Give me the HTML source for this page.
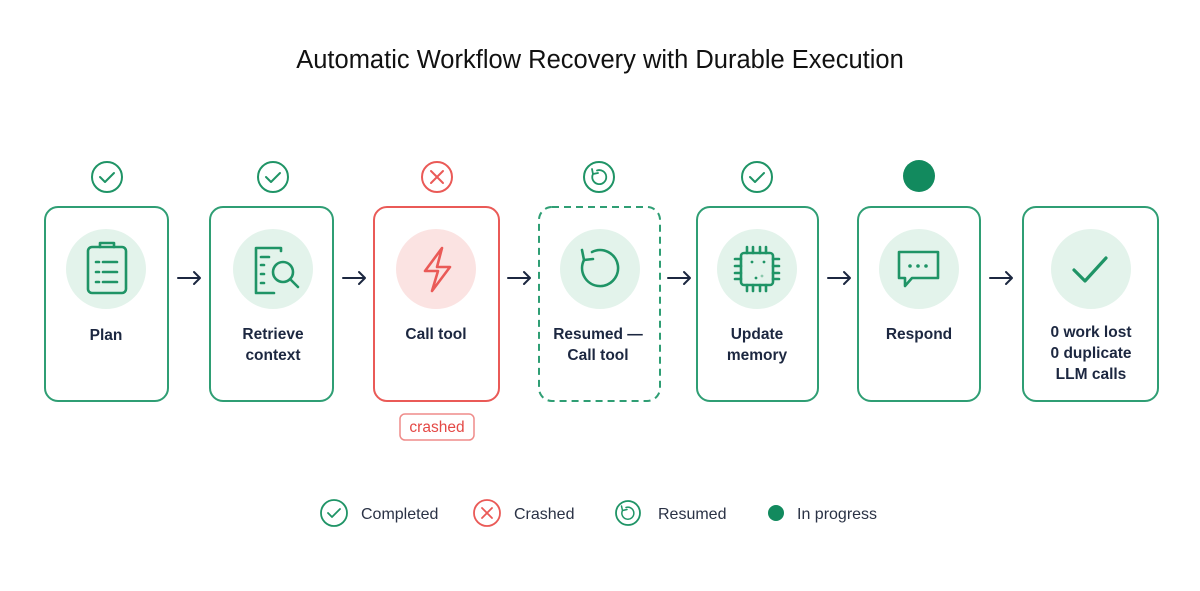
<!DOCTYPE html>
<html><head><meta charset="utf-8"><style>
html,body{margin:0;padding:0;background:#fff}
svg{display:block}
text{font-family:"Liberation Sans",sans-serif}
</style></head><body>
<svg width="1200" height="591" viewBox="0 0 1200 591" xmlns="http://www.w3.org/2000/svg">
<rect width="1200" height="591" fill="#fff"/>
<text x="600" y="68" text-anchor="middle" font-size="25.5" fill="#111">Automatic Workflow Recovery with Durable Execution</text>
<g fill="none" stroke-width="2">
<rect x="45" y="207" width="123" height="194" rx="13" stroke="#2f9e74"/>
<rect x="210" y="207" width="123" height="194" rx="13" stroke="#2f9e74"/>
<rect x="374" y="207" width="125" height="194" rx="13" stroke="#ea5a57"/>
<rect x="539" y="207" width="121" height="194" rx="13" stroke="#2f9e74" stroke-dasharray="7 5"/>
<rect x="697" y="207" width="121" height="194" rx="13" stroke="#2f9e74"/>
<rect x="858" y="207" width="122" height="194" rx="13" stroke="#2f9e74"/>
<rect x="1023" y="207" width="135" height="194" rx="13" stroke="#2f9e74"/>
</g>
<g fill="#e3f3eb">
<circle cx="106" cy="269" r="40"/><circle cx="273" cy="269" r="40"/>
<circle cx="436" cy="269" r="40" fill="#fbe3e2"/>
<circle cx="600" cy="269" r="40"/><circle cx="757" cy="269" r="40"/>
<circle cx="919" cy="269" r="40"/><circle cx="1091" cy="269" r="40"/>
</g>
<g fill="none" stroke-width="2" stroke-linecap="round" stroke-linejoin="round">
<circle cx="107" cy="177" r="15" stroke="#1f9466"/><path d="M100 177l5 5 9-9" stroke="#1f9466"/>
<circle cx="273" cy="177" r="15" stroke="#1f9466"/><path d="M266 177l5 5 9-9" stroke="#1f9466"/>
<circle cx="437" cy="177" r="15" stroke="#ea5a57"/><path d="M431 171l12 12M443 171l-12 12" stroke="#ea5a57"/>
<circle cx="599" cy="177" r="15" stroke="#1f9466"/><path d="M597 170.5 A7 7 0 1 1 593 174M592 169l1 5 5-1" stroke="#1f9466" stroke-width="1.8"/>
<circle cx="757" cy="177" r="15" stroke="#1f9466"/><path d="M750 177l5 5 9-9" stroke="#1f9466"/>
</g>
<circle cx="919" cy="176" r="16" fill="#128a5e"/>
<g fill="none" stroke="#1f9466" stroke-width="2.6" stroke-linecap="round" stroke-linejoin="round">
<rect x="88" y="247" width="38" height="46" rx="4"/><path d="M100 247v-4h14v4"/>
<path d="M96 262h3M103 262h14M96 272h3M103 272h14M96 282h3M103 282h14"/>
<path d="M281 251v-3h-25v45h18M261 257h8M261 265h3M261 274h3M261 283h3"/>
<circle cx="283" cy="272" r="10"/><path d="M290 279l8 8"/>
<path d="M442 248l-17 23h13l-6 20 18-24h-13z" stroke="#ea5a57"/>
<path d="M592 252 A18 18 0 1 1 584 260"/><path d="M582 250 L584 260 L593 259"/>
<rect x="741" y="253" width="32" height="32" rx="3"/>
<path d="M747 253v-6M753 253v-6M760 253v-6M766 253v-6M747 285v6M753 285v6M760 285v6M766 285v6M741 259h-6M741 266h-6M741 273h-6M741 279h-6M773 259h6M773 266h6M773 273h6M773 279h6"/>
<path d="M899 252h39v26h-26l-7 8v-8h-6z"/>
<path d="M1074 270l11 11 21-23" stroke-width="3.2"/>
</g>
<g fill="#1f9466"><circle cx="910" cy="266" r="1.8"/><circle cx="918" cy="266" r="1.8"/><circle cx="926" cy="266" r="1.8"/>
<circle cx="752" cy="262" r="1.4"/><circle cx="764" cy="262" r="1.4"/><circle cx="756" cy="278" r="1.4"/><circle cx="762" cy="276" r="1.4" fill="#8cc9ad"/></g>
<g fill="none" stroke="#1c2740" stroke-width="2" stroke-linecap="round" stroke-linejoin="round">
<path d="M178 278h22M194 272l6 6-6 6"/>
<path d="M343 278h22M359 272l6 6-6 6"/>
<path d="M508 278h22M524 272l6 6-6 6"/>
<path d="M668 278h22M684 272l6 6-6 6"/>
<path d="M828 278h22M844 272l6 6-6 6"/>
<path d="M990 278h22M1006 272l6 6-6 6"/>
</g>
<g font-size="15.5" font-weight="bold" fill="#1c2740" text-anchor="middle">
<text x="106" y="340">Plan</text>
<text x="273" y="339">Retrieve</text><text x="273" y="360">context</text>
<text x="436" y="339">Call tool</text>
<text x="598" y="339">Resumed —</text><text x="598" y="360">Call tool</text>
<text x="757" y="339">Update</text><text x="757" y="360">memory</text>
<text x="919" y="339">Respond</text>
<text x="1091" y="337">0 work lost</text><text x="1091" y="358">0 duplicate</text><text x="1091" y="379">LLM calls</text>
</g>
<rect x="400" y="414" width="74" height="26" rx="5" fill="#fff" stroke="#ef8c8a" stroke-width="1.5"/>
<text x="437" y="432" text-anchor="middle" font-size="15.5" fill="#e44845">crashed</text>
<g fill="none" stroke-width="1.8" stroke-linecap="round" stroke-linejoin="round">
<circle cx="334" cy="513" r="13" stroke="#1f9466"/><path d="M328 513l4 4 8-8" stroke="#1f9466"/>
<circle cx="487" cy="513" r="13" stroke="#ea5a57"/><path d="M482 508l10 10M492 508l-10 10" stroke="#ea5a57"/>
<circle cx="628" cy="513" r="12" stroke="#1f9466"/><path d="M626 507.5 A6 6 0 1 1 622.5 510.5M621.5 506l1 4.5 4.5-1" stroke="#1f9466" stroke-width="1.5"/>
</g>
<circle cx="776" cy="513" r="8" fill="#128a5e"/>
<g font-size="16" fill="#2a3245">
<text x="361" y="519">Completed</text>
<text x="514" y="519">Crashed</text>
<text x="658" y="519">Resumed</text>
<text x="797" y="519">In progress</text>
</g>
</svg>
</body></html>
